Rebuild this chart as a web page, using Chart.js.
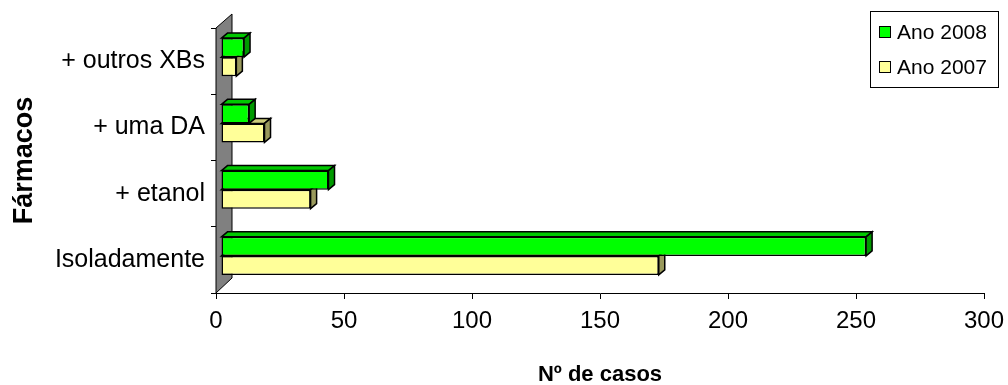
<!DOCTYPE html>
<html>
<head>
<meta charset="utf-8">
<script src="https://cdn.jsdelivr.net/npm/chart.js@4.4.1/dist/chart.umd.min.js"></script>
<style>
  html, body { margin: 0; padding: 0; background: #ffffff; }
  #wrap { width: 1008px; height: 385px; position: relative; }
</style>
</head>
<body>
<div id="wrap"><canvas id="chart" width="1008" height="385"></canvas></div>
<script>
// Categories (top to bottom) and the number of cases per year
const categories = ['+ outros XBs', '+ uma DA', '+ etanol', 'Isoladamente'];
const seriesNames = ['Ano 2008', 'Ano 2007'];
const cases2008 = [9, 11, 42, 252];
const cases2007 = [6, 17, 35, 171];
const xTicks = [0, 50, 100, 150, 200, 250, 300];

const FONT = '"Liberation Sans", Arial, Helvetica, sans-serif';

// Face colours for the pseudo-3D bars: front, top, side
const palette = [
  { front: '#00FF00', top: '#00C800', side: '#009A00' },
  { front: '#FFFF99', top: '#CCCC7A', side: '#99995C' }
];

// Geometry of the 3D look
const WALL_DX = 16, WALL_DY = 15;   // depth of the back wall
const BAR_SHIFT_X = 5, BAR_SHIFT_Y = 4; // bars sit a little behind the front plane
const BAR_DX = 6, BAR_DY = 5;       // depth of each bar

const threeD = {
  id: 'threeD',
  beforeDatasetsDraw(chart) {
    const { ctx, chartArea: a } = chart;
    // grey back wall along the category axis
    ctx.save();
    ctx.beginPath();
    ctx.moveTo(a.left, a.top);
    ctx.lineTo(a.left + WALL_DX, a.top - WALL_DY + 1);
    ctx.lineTo(a.left + WALL_DX, a.bottom - WALL_DY);
    ctx.lineTo(a.left, a.bottom);
    ctx.closePath();
    ctx.fillStyle = '#808080';
    ctx.fill();
    ctx.strokeStyle = '#000';
    ctx.lineWidth = 1;
    ctx.stroke();
    ctx.restore();
    // push the bars into the depth of the plot
    ctx.save();
    ctx.translate(BAR_SHIFT_X, -BAR_SHIFT_Y);
  },
  afterDatasetDraw(chart, args) {
    const { ctx } = chart;
    const colors = palette[args.index];
    ctx.save();
    ctx.strokeStyle = '#000';
    ctx.lineWidth = 1.5;
    ctx.lineJoin = 'miter';
    args.meta.data.forEach(el => {
      const { x, y, base, height } = el.getProps(['x', 'y', 'base', 'height'], true);
      const top = y - height / 2, bot = y + height / 2;
      const x0 = Math.min(base, x), x1 = Math.max(base, x);
      // top face
      ctx.beginPath();
      ctx.moveTo(x0, top);
      ctx.lineTo(x0 + BAR_DX, top - BAR_DY);
      ctx.lineTo(x1 + BAR_DX, top - BAR_DY);
      ctx.lineTo(x1, top);
      ctx.closePath();
      ctx.fillStyle = colors.top;
      ctx.fill();
      ctx.stroke();
      // end face
      ctx.beginPath();
      ctx.moveTo(x1, top);
      ctx.lineTo(x1 + BAR_DX, top - BAR_DY);
      ctx.lineTo(x1 + BAR_DX, bot - BAR_DY);
      ctx.lineTo(x1, bot);
      ctx.closePath();
      ctx.fillStyle = colors.side;
      ctx.fill();
      ctx.stroke();
    });
    ctx.restore();
  },
  afterDatasetsDraw(chart) {
    chart.ctx.restore();
  }
};

// Boxed legend in the top-right corner
const boxedLegend = {
  id: 'boxedLegend',
  afterDraw(chart) {
    const { ctx } = chart;
    const left = 870, top = 11, w = 128, h = 76;
    ctx.save();
    ctx.fillStyle = '#fff';
    ctx.fillRect(left, top, w, h);
    ctx.strokeStyle = '#000';
    ctx.lineWidth = 1;
    ctx.strokeRect(left + 0.5, top + 0.5, w, h);
    ctx.font = '21px ' + FONT;
    ctx.textBaseline = 'middle';
    ctx.textAlign = 'left';
    chart.data.datasets.forEach((ds, i) => {
      const cy = 32 + i * 35;
      ctx.fillStyle = ds.backgroundColor;
      ctx.fillRect(879.5, cy - 5.5, 11, 11);
      ctx.strokeStyle = '#000';
      ctx.lineWidth = 1;
      ctx.strokeRect(879.5, cy - 5.5, 11, 11);
      ctx.fillStyle = '#000';
      ctx.fillText(ds.label, 897, cy + 1);
    });
    ctx.restore();
  }
};

new Chart(document.getElementById('chart'), {
  type: 'bar',
  data: {
    labels: categories,
    datasets: [
      {
        label: seriesNames[0],
        data: cases2008,
        backgroundColor: palette[0].front,
        borderColor: '#000',
        borderWidth: 1.5,
        borderSkipped: false,
        categoryPercentage: 0.574,
        barPercentage: 1.0,
        clip: false
      },
      {
        label: seriesNames[1],
        data: cases2007,
        backgroundColor: palette[1].front,
        borderColor: '#000',
        borderWidth: 1.5,
        borderSkipped: false,
        categoryPercentage: 0.574,
        barPercentage: 1.0,
        clip: false
      }
    ]
  },
  options: {
    indexAxis: 'y',
    responsive: false,
    animation: false,
    devicePixelRatio: 1,
    layout: { padding: { top: 28, right: 24, left: 0, bottom: 0 } },
    plugins: {
      legend: { display: false },
      tooltip: { enabled: false }
    },
    scales: {
      x: {
        type: 'linear',
        position: 'bottom',
        min: 0,
        max: 300,
        afterBuildTicks(scale) { scale.ticks = xTicks.map(v => ({ value: v })); },
        afterFit(scale) {
          scale.height = 92;
          scale.paddingLeft = 0;
          scale.paddingRight = 0;
        },
        grid: { drawOnChartArea: false, tickLength: 6, color: '#000', lineWidth: 1 },
        border: { display: true, color: '#000', width: 1 },
        ticks: { color: '#000', padding: 8, maxRotation: 0, autoSkip: false,
                 font: { family: FONT, size: 24 } },
        title: { display: true, text: 'Nº de casos', color: '#000',
                 padding: { top: 0, bottom: -3 },
                 font: { family: FONT, size: 22, weight: 'bold' } }
      },
      y: {
        type: 'category',
        afterFit(scale) {
          scale.width = 216;
          scale.paddingTop = 0;
          scale.paddingBottom = 0;
        },
        grid: { drawOnChartArea: false, offset: true, tickLength: 5, color: '#000', lineWidth: 1 },
        border: { display: true, color: '#000', width: 1 },
        ticks: { color: '#000', padding: 6, font: { family: FONT, size: 25 } },
        title: { display: true, text: 'Fármacos', color: '#000',
                 padding: { top: 8, bottom: 0 },
                 font: { family: FONT, size: 27, weight: 'bold' } }
      }
    }
  },
  plugins: [threeD, boxedLegend]
});
</script>
</body>
</html>
